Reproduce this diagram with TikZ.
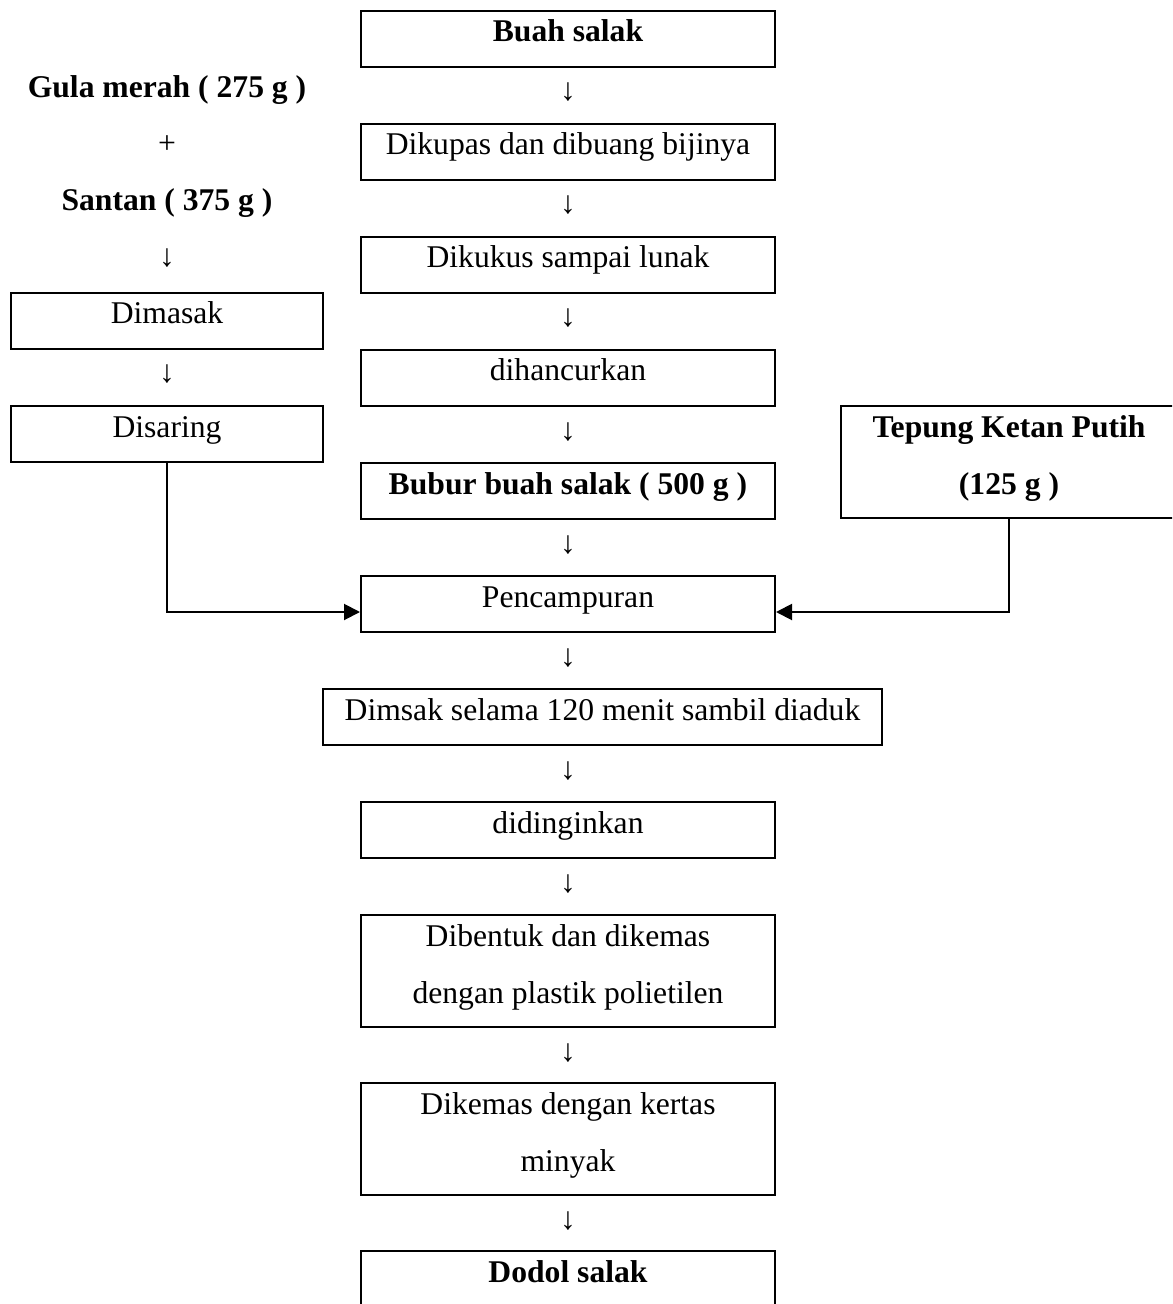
\documentclass[tikz,border=0pt]{standalone}
\usepackage{fontspec}
\setmainfont{Liberation Serif}
\usetikzlibrary{arrows.meta}

\begin{document}
\begin{tikzpicture}[x=0.4pt, y=-0.4pt,
    teks/.style={font=\fontsize{12.65}{22.8}\selectfont},
    tebal/.style={font=\fontsize{12.65}{22.8}\selectfont\bfseries},
    every node/.style={teks},
    kotak/.style={draw, line width=0.8pt, inner sep=0pt, align=flush center,
        anchor=north, text width=165.6pt, text height=12.4pt, text depth=10pt},
    kotakdua/.style={kotak, text depth=32.4pt},
    kotakkiri/.style={kotak, text width=124.8pt},
    turun/.style={anchor=base},
    alur/.style={line width=0.8pt, -{Triangle[length=6.4pt, width=6.4pt]}}]
    \useasboundingbox (0,0) rectangle (1172,1304);
    \clip (0,0) rectangle (1172,1304);

    \node[kotak, tebal] (buah) at (568,10) {Buah salak};
    \node[kotak] (kupas) at (568,123) {Dikupas dan dibuang bijinya};
    \node[kotak] (kukus) at (568,236) {Dikukus sampai lunak};
    \node[kotak] (hancur) at (568,349) {dihancurkan};
    \node[kotak, tebal] (bubur) at (568,462) {Bubur buah salak ( 500 g )};
    \node[kotak] (campur) at (568,575) {Pencampuran};
    \node[kotak, text width=223.6pt] (masak) at (602.5,688) {Dimsak selama 120 menit sambil diaduk};
    \node[kotak] (dingin) at (568,801) {didinginkan};
    \node[kotakdua] (bentuk) at (568,914) {Dibentuk dan dikemas\\dengan plastik polietilen};
    \node[kotakdua] (kemas) at (568,1082) {Dikemas dengan kertas\\minyak};
    \node[kotak, tebal, text depth=16pt] (dodol) at (568,1250) {Dodol salak};
    \foreach \y [count=\i] in {101,214,327,440,553,666,779,892,1061,1229}
        \node[turun] (panah\i) at (568,\y) {↓};

    \node[turun, tebal] (gula) at (167,98) {Gula merah ( 275 g )};
    \node[turun] (tambah) at (167,154) {+};
    \node[turun, tebal] (santan) at (167,211) {Santan ( 375 g )};
    \node[turun] (panahkiri1) at (167,267) {↓};
    \node[kotakkiri] (dimasak) at (167,292) {Dimasak};
    \node[turun] (panahkiri2) at (167,383) {↓};
    \node[kotakkiri] (saring) at (167,405) {Disaring};

    \node[kotakdua, tebal, text width=134.4pt] (tepung) at (1009,405) {Tepung Ketan Putih\\(125 g )};

    \draw[alur] (saring.south) |- ([yshift=-3.2pt]campur.west);
    \draw[alur] (tepung.south) |- ([yshift=-3.2pt]campur.east);
\end{tikzpicture}
\end{document}
